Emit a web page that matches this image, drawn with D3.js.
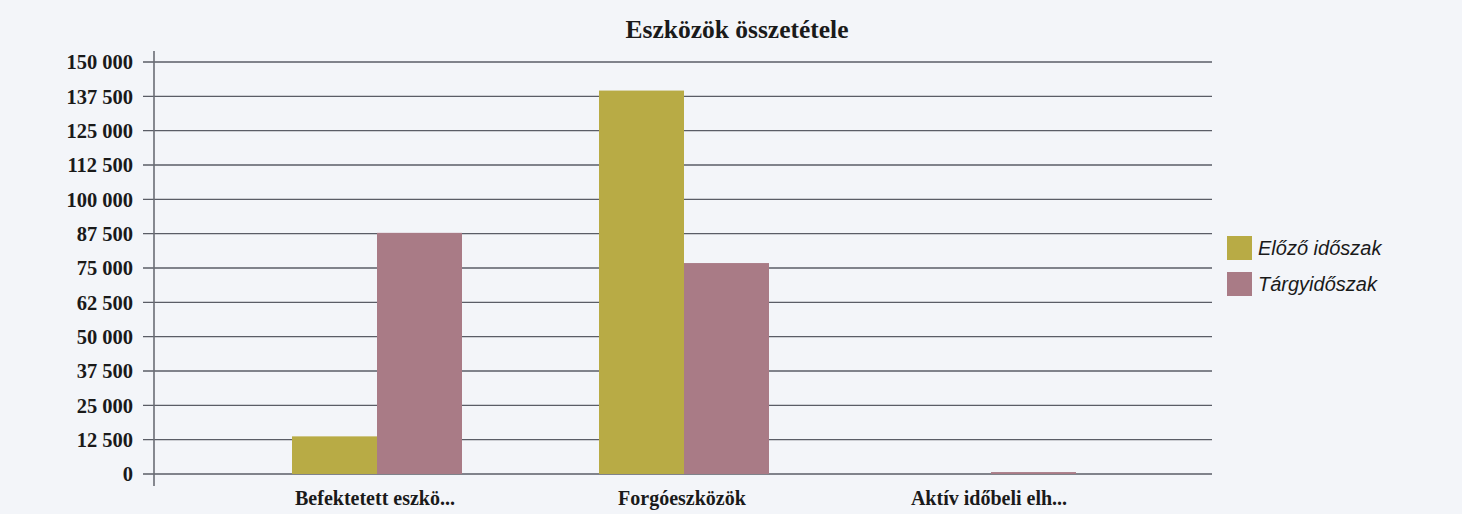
<!DOCTYPE html>
<html><head><meta charset="utf-8">
<script src="https://cdn.jsdelivr.net/npm/d3@7"></script>
<style>
html,body{margin:0;padding:0;background:#f3f5f9;}
svg{display:block;}
</style></head>
<body>
<svg id="chart" width="1462" height="514"></svg>
<script>
const title = "Eszközök összetétele";
const categories = ["Befektetett eszkö...", "Forgóeszközök", "Aktív időbeli elh..."];
const seriesNames = ["Előző időszak", "Tárgyidőszak"];
const elozo = [13700, 139600, 0];
const targy = [87800, 76800, 700];
const yTicks = [0, 12500, 25000, 37500, 50000, 62500, 75000, 87500, 100000, 112500, 125000, 137500, 150000];
const colors = ["#b8ab45", "#a97b86"];

const svg = d3.select("#chart");
const y = d3.scaleLinear().domain([0, 150000]).range([474, 62]);
const axisX = 154, gridRight = 1212;
const x0 = d3.scaleBand().domain(categories).range([223.5, 1144.5]).padding(0);
const x1 = d3.scaleBand().domain(seriesNames).range([0, x0.bandwidth()]).paddingInner(0).paddingOuter(0.806);

const fmt = v => d3.format(",")(v).replace(/,/g, " ");

// gridlines
svg.append("g").selectAll("line").data(yTicks).join("line")
  .attr("x1", 143).attr("x2", gridRight)
  .attr("y1", d => y(d)).attr("y2", d => y(d))
  .attr("stroke", "#5a5d66").attr("stroke-width", 1.4);

// y axis line
svg.append("line").attr("x1", axisX).attr("x2", axisX).attr("y1", 51).attr("y2", 486)
  .attr("stroke", "#6a6d75").attr("stroke-width", 1.6);

// y labels
svg.append("g").selectAll("text").data(yTicks).join("text")
  .attr("x", 133).attr("y", d => y(d)).attr("dy", "0.35em")
  .attr("text-anchor", "end")
  .attr("font-family", "Liberation Serif, Times New Roman, serif")
  .attr("font-weight", "bold").attr("font-size", 20.5).attr("fill", "#1a1a1a")
  .text(d => fmt(d));

// bars
const data = categories.map((c, i) => ({cat: c, vals: [elozo[i], targy[i]]}));
const groups = svg.append("g").selectAll("g").data(data).join("g")
  .attr("transform", d => `translate(${x0(d.cat)},0)`);
groups.selectAll("rect").data(d => d.vals.map((v, j) => ({name: seriesNames[j], v, j})))
  .join("rect")
  .attr("x", d => x1(d.name)).attr("width", x1.bandwidth())
  .attr("y", d => y(d.v)).attr("height", d => y(0) - y(d.v))
  .attr("fill", d => colors[d.j]);

// x labels
svg.append("g").selectAll("text").data(categories).join("text")
  .attr("x", d => x0(d) + x0.bandwidth() / 2 - 2).attr("y", 505)
  .attr("text-anchor", "middle")
  .attr("font-family", "Liberation Serif, Times New Roman, serif")
  .attr("font-weight", "bold").attr("font-size", 20).attr("fill", "#1a1a1a")
  .text(d => d);

// title
svg.append("text").attr("x", 737).attr("y", 38).attr("text-anchor", "middle")
  .attr("font-family", "Liberation Serif, Times New Roman, serif")
  .attr("font-weight", "bold").attr("font-size", 25.5).attr("fill", "#1a1a1a")
  .text(title);

// legend
const lg = svg.append("g").attr("transform", "translate(1227,236)");
const items = lg.selectAll("g").data(seriesNames).join("g")
  .attr("transform", (d, i) => `translate(0,${i * 36})`);
items.append("rect").attr("width", 25).attr("height", 24).attr("fill", (d, i) => colors[i]);
items.append("text").attr("x", 31).attr("y", 12).attr("dy", "0.35em")
  .attr("font-family", "Liberation Sans, Arial, sans-serif")
  .attr("font-style", "italic").attr("font-size", 20).attr("fill", "#1a1a1a")
  .text(d => d);
</script>
</body></html>
